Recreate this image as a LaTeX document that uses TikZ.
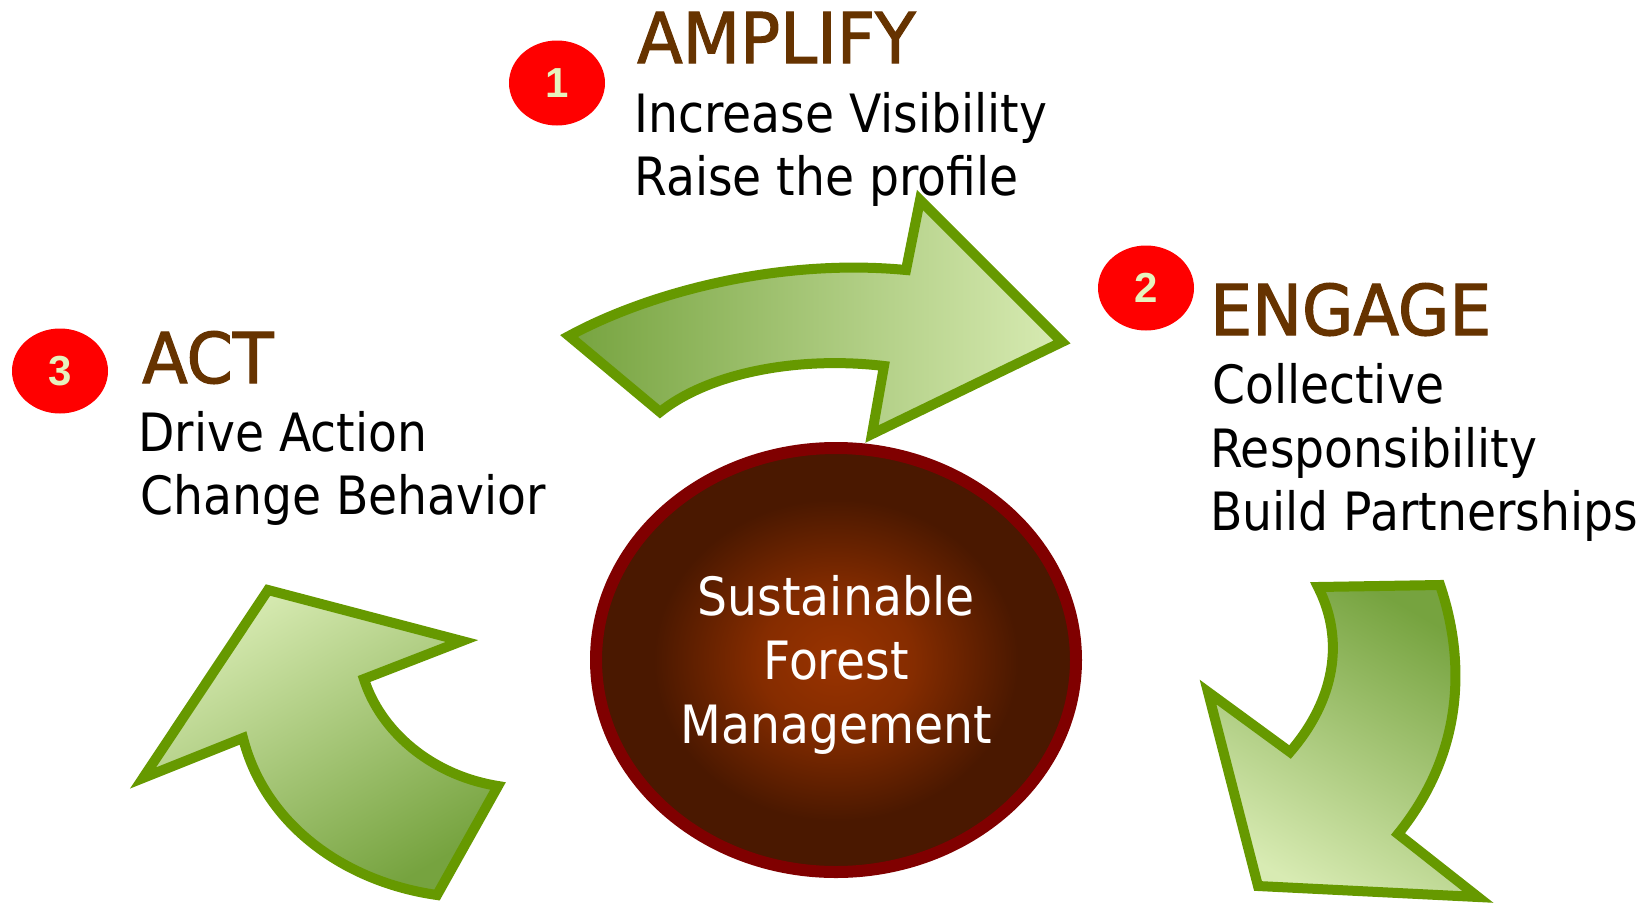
\documentclass[tikz,border=0pt]{standalone}
\usepackage{fontspec}
\setmainfont{DejaVu Sans}[FakeStretch=0.895]
\newfontfamily\titlefont{DejaVu Sans}[FakeStretch=0.95, FakeBold=1.6]
\newfontfamily\numfont{Liberation Sans}
\usetikzlibrary{shapes.geometric}
\definecolor{titlebrown}{HTML}{663300}
\definecolor{badgered}{HTML}{FF0000}
\definecolor{numcol}{HTML}{E6F2BE}
\definecolor{arrowline}{HTML}{669900}
\definecolor{arrowdark}{HTML}{76A33F}
\definecolor{arrowlight}{HTML}{D8EBB3}
\definecolor{ovalline}{HTML}{800000}
\definecolor{ovalin}{HTML}{993300}
\definecolor{ovalout}{HTML}{4A1800}
\pgfdeclareradialshading{ovalshade}{\pgfpoint{0bp}{0bp}}{color(0bp)=(ovalin); color(8bp)=(ovalin!75!ovalout); color(19bp)=(ovalout); color(50bp)=(ovalout)}
\tikzset{
  greenarrow/.style={draw=arrowline, line width=10pt, line join=miter, miter limit=12},
  badge/.style={ellipse, fill=badgered, minimum width=96pt, minimum height=85pt, inner sep=0pt,
    text=numcol, font=\numfont\bfseries\fontsize{42}{42}\selectfont},
  titletext/.style={anchor=base west, inner sep=0pt, text=titlebrown, font=\titlefont\fontsize{70}{70}\selectfont},
  bodytext/.style={anchor=base west, inner sep=0pt, text=black, font=\fontsize{52.8}{63}\selectfont},
  oval/.style={ellipse, draw=ovalline, line width=12pt, shading=ovalshade, minimum width=480pt, minimum height=424pt, inner sep=0pt},
  ovaltext/.style={align=center, text=white, inner sep=0pt, font=\fontsize{52.8}{64}\selectfont}
}
\begin{document}
\begin{tikzpicture}[x=1pt, y=-1pt]
\useasboundingbox (0,0) rectangle (1652,905);

% top arrow (AMPLIFY -> ENGAGE)
\path[greenarrow, left color=arrowdark, right color=arrowlight]
  (569,336) .. controls (650,292) and (780,258) .. (906,270)
  -- (920,200) -- (1062,342) -- (872,434) -- (884,366)
  .. controls (800,356) and (710,372) .. (660,412) -- cycle;

% right arrow (ENGAGE -> down)
\path[greenarrow, top color=arrowdark, bottom color=arrowlight, shading angle=-30]
  (1318,587) -- (1440,585)
  .. controls (1462,650) and (1470,745) .. (1398,834)
  -- (1478,897) -- (1258,886) -- (1208,692) -- (1290,752)
  .. controls (1335,700) and (1345,640) .. (1318,587) -- cycle;

% left arrow (up to ACT)
\path[greenarrow, top color=arrowlight, bottom color=arrowdark, shading angle=30]
  (268,590) -- (462,641) -- (364,679)
  .. controls (380,730) and (430,775) .. (498,786)
  -- (437,895)
  .. controls (345,882) and (265,825) .. (243,738)
  -- (143,778) -- cycle;

% central oval
\node[oval] (sfm) at (836,660) {};
\node[ovaltext] (sfmtext) at (836,665) {Sustainable\\Forest\\Management};

% badges
\node[badge] (b1) at (557,83) {1};
\node[badge] (b2) at (1146,288) {2};
\node[badge] (b3) at (60,371) {3};

% AMPLIFY block
\node[titletext] (amp) at (637,63) {AMPLIFY};
\node[bodytext] (amp1) at (634,132) {Increase Visibility};
\node[bodytext] (amp2) at (634,195) {Raise the profile};

% ENGAGE block
\node[titletext] (eng) at (1210,335) {ENGAGE};
\node[bodytext] (eng1) at (1212,403) {Collective};
\node[bodytext] (eng2) at (1210,467) {Responsibility};
\node[bodytext] (eng3) at (1210,530) {Build Partnerships};

% ACT block
\node[titletext] (act) at (142,383) {ACT};
\node[bodytext] (act1) at (138,451) {Drive Action};
\node[bodytext] (act2) at (140,514) {Change Behavior};
\end{tikzpicture}
\end{document}
